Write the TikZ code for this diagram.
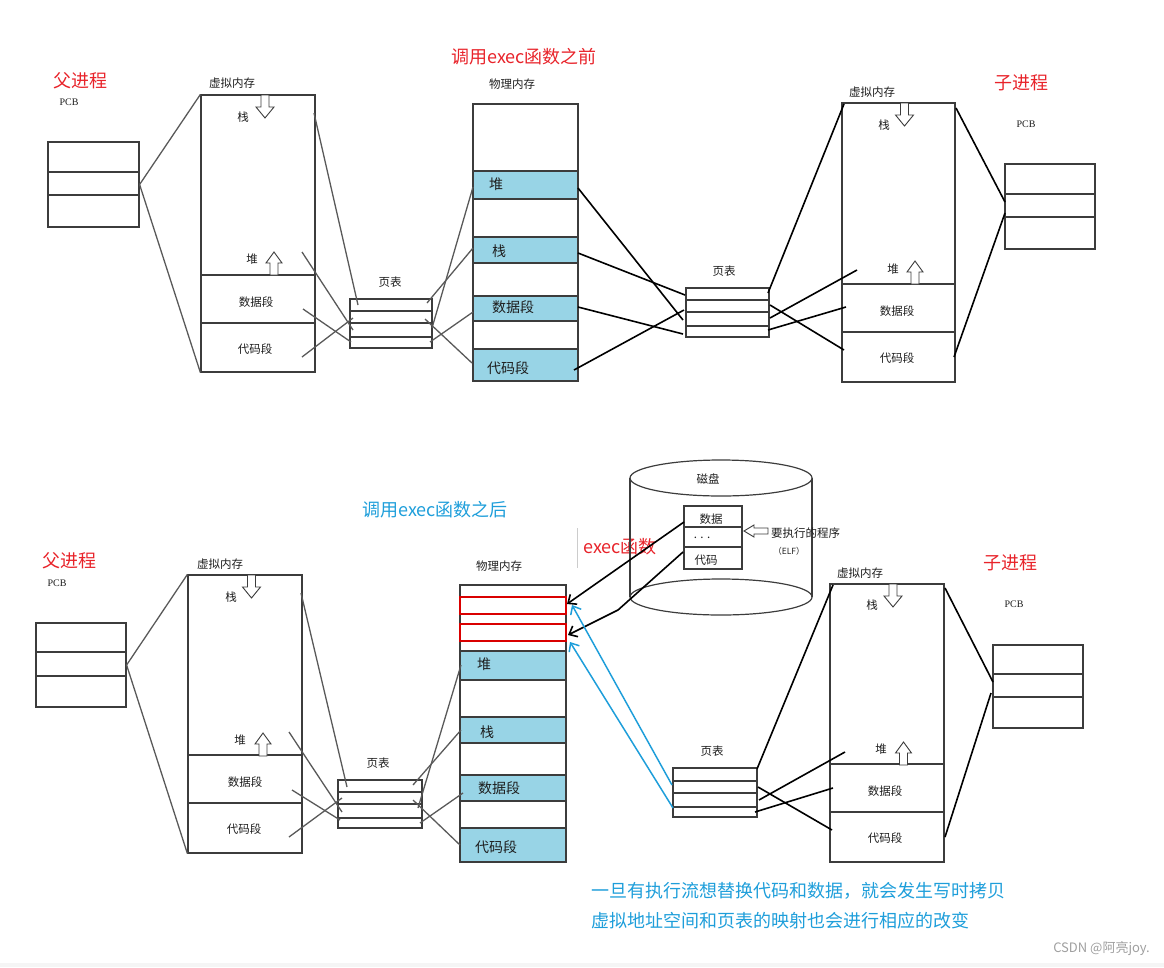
\documentclass[tikz,border=0pt]{standalone}
\usepackage{fontspec}
\setmainfont{Liberation Serif}
\newfontfamily\cjk{Noto Sans CJK SC}
\usetikzlibrary{calc,arrows.meta}
\definecolor{tred}{RGB}{232,35,42}
\definecolor{tblue}{RGB}{30,158,218}
\definecolor{segblue}{RGB}{152,212,230}
\definecolor{ink}{RGB}{60,60,60}
\definecolor{txt}{RGB}{30,30,30}
\begin{document}
\begin{tikzpicture}[x=1pt,y=-1pt,
  box/.style={draw=ink, line width=1.2pt, inner sep=0pt, rectangle},
  segbox/.style={draw=ink, line width=1.1pt, fill=segblue, inner sep=0pt, rectangle},
  redbox/.style={draw=red!85!black, line width=1.4pt, inner sep=0pt, rectangle},
  lab/.style={font=\cjk\fontsize{11.5}{13}\selectfont, text=txt, inner sep=0pt},
  seglab/.style={font=\cjk\fontsize{14}{16}\selectfont, text=txt, inner sep=0pt},
  ttl/.style={font=\cjk\fontsize{18}{21}\selectfont, inner sep=0pt},
  pcblab/.style={font=\fontsize{10}{11}\selectfont, text=txt, inner sep=0pt},
  skg/.style={draw=gray!70!black, line width=1.3pt},
  skb/.style={draw=black, line width=1.6pt},
  inner/.style={draw=ink, line width=1.1pt},
  barb/.style={-{Straight Barb[length=7pt,width=12pt]}},
  pics/dnarrow/.style={code={\draw[ink, line width=0.9pt, fill=white] (-4,0) -- (4,0) -- (4,12) -- (9,12) -- (0,23) -- (-9,12) -- (-4,12) -- cycle;}},
  pics/uparrow/.style={code={\draw[ink, line width=0.9pt, fill=white] (-4,23) -- (4,23) -- (4,11) -- (8,11) -- (0,0) -- (-8,11) -- (-4,11) -- cycle;}},
  pics/lfarrow/.style={code={\draw[ink, line width=0.9pt, fill=white] (0,0) -- (10,-6) -- (10,-3) -- (24,-3) -- (24,3) -- (10,3) -- (10,6) -- cycle;}}
]
\useasboundingbox (0,0) rectangle (1164,967);
\fill[gray!8] (0,963) rectangle (1164,967);

%================ TOP ================
\node[ttl, text=tred] (titleA) at (524,57) {调用exec函数之前};
\node[ttl, text=tred] (parA) at (80,81) {父进程};
\node[pcblab] (pcbAl) at (69,102) {PCB};
\node[ttl, text=tred] (chiB) at (1021,83) {子进程};
\node[pcblab] (pcbBl) at (1026,124) {PCB};

% parent PCB
\node[box, minimum width=91, minimum height=85] (pcbA) at (93.5,184.5) {};
\draw[inner] (48,172) -- (139,172) (48,195) -- (139,195);
% parent VM
\node[lab] (vmAl) at (232,83) {虚拟内存};
\node[box, minimum width=114, minimum height=277] (vmA) at (258,233.5) {};
\draw[inner] (201,275) -- (315,275) (201,323) -- (315,323);
\pic at (265,95) {dnarrow};
\pic at (274,252) {uparrow};
\node[lab] (vmAs) at (243,117) {栈};
\node[lab] (vmAh) at (252,259) {堆};
\node[lab] (vmAd) at (256,302) {数据段};
\node[lab] (vmAc) at (255,349) {代码段};
% parent page table
\node[lab] (ptAl) at (390,282) {页表};
\node[box, minimum width=82, minimum height=49] (ptA) at (391,323.5) {};
\draw[inner] (350,311) -- (432,311) (350,323) -- (432,323) (350,337) -- (432,337);
% physical memory
\node[lab] (phAl) at (512,84) {物理内存};
\node[box, minimum width=105, minimum height=277] (phA) at (525.5,242.5) {};
\node[segbox, minimum width=105, minimum height=28] (phAh) at (525.5,185) {};
\node[segbox, minimum width=105, minimum height=26] (phAs) at (525.5,250) {};
\node[segbox, minimum width=105, minimum height=25] (phAd) at (525.5,308.5) {};
\node[segbox, minimum width=105, minimum height=32] (phAc) at (525.5,365) {};
\node[seglab] (phAhl) at (496,184) {堆};
\node[seglab] (phAsl) at (499,251) {栈};
\node[seglab] (phAdl) at (513,307) {数据段};
\node[seglab] (phAcl) at (508,368) {代码段};
% child page table
\node[lab] (ptBl) at (724,271) {页表};
\node[box, minimum width=83, minimum height=49] (ptB) at (727.5,312.5) {};
\draw[inner] (686,300) -- (769,300) (686,312) -- (769,312) (686,326) -- (769,326);
% child VM
\node[lab] (vmBl) at (872,92) {虚拟内存};
\node[box, minimum width=113, minimum height=279] (vmB) at (898.5,242.5) {};
\draw[inner] (842,284) -- (955,284) (842,332) -- (955,332);
\pic at (904.5,103) {dnarrow};
\pic at (915,261) {uparrow};
\node[lab] (vmBs) at (884,125) {栈};
\node[lab] (vmBh) at (893,269) {堆};
\node[lab] (vmBd) at (897,311) {数据段};
\node[lab] (vmBc) at (897,358) {代码段};
% child PCB
\node[box, minimum width=90, minimum height=85] (pcbB) at (1050,206.5) {};
\draw[inner] (1005,194) -- (1095,194) (1005,217) -- (1095,217);

% top connectors
\coordinate (a3s) at (314,113); \coordinate (a3e) at (358,305);
\coordinate (a4s) at (302,252); \coordinate (a4e) at (353,330);
\coordinate (a5s) at (303,309); \coordinate (a5e) at (351,342);
\coordinate (a6s) at (302,357); \coordinate (a6e) at (353,318);
\coordinate (a7s) at (427,303); \coordinate (a7e) at (473,248);
\coordinate (a8s) at (432,328); \coordinate (a8e) at (473,187);
\coordinate (a9s) at (430,342); \coordinate (a9e) at (473,312);
\coordinate (a10s) at (425,319); \coordinate (a10e) at (472,363);
\coordinate (a11s) at (578,188); \coordinate (a11e) at (683,320);
\coordinate (a12s) at (578,253); \coordinate (a12e) at (685,295);
\coordinate (a13s) at (578,307); \coordinate (a13e) at (683,334);
\coordinate (a14s) at (574,370); \coordinate (a14e) at (684,310);
\coordinate (a15s) at (768,293); \coordinate (a15e) at (844,104);
\coordinate (a16s) at (770,318); \coordinate (a16e) at (857,270);
\coordinate (a17s) at (768,330); \coordinate (a17e) at (846,307);
\coordinate (a18s) at (770,305); \coordinate (a18e) at (844,350);
\coordinate (a19s) at (956,108); \coordinate (a19e) at (1005,202);
\coordinate (a20s) at (954,357); \coordinate (a20e) at (1005,213);
\draw[skg] (pcbA.east) -- (vmA.north west);
\draw[skg] (pcbA.east) -- (vmA.south west);
\draw[skg] (a3s) -- (a3e);
\draw[skg] (a4s) -- (a4e);
\draw[skg] (a5s) -- (a5e);
\draw[skg] (a6s) -- (a6e);
\draw[skg] (a7s) -- (a7e);
\draw[skg] (a8s) -- (a8e);
\draw[skg] (a9s) -- (a9e);
\draw[skg] (a10s) -- (a10e);
\draw[skb] (a11s) -- (a11e);
\draw[skb] (a12s) -- (a12e);
\draw[skb] (a13s) -- (a13e);
\draw[skb] (a14s) -- (a14e);
\draw[skb] (a15s) -- (a15e);
\draw[skb] (a16s) -- (a16e);
\draw[skb] (a17s) -- (a17e);
\draw[skb] (a18s) -- (a18e);
\draw[skb] (a19s) -- (a19e);
\draw[skb] (a20s) -- (a20e);

%================ BOTTOM ================
\node[ttl, text=tblue] (titleB) at (435,510) {调用exec函数之后};
\node[ttl, text=tred] (parC) at (69,561) {父进程};
\node[pcblab] (pcbCl) at (57,583) {PCB};
\node[ttl, text=tred] (chiD) at (1010,563) {子进程};
\node[pcblab] (pcbDl) at (1014,604) {PCB};
\node[ttl, text=tred] (execl) at (620,547) {exec函数};

% parent PCB
\node[box, minimum width=90, minimum height=84] (pcbC) at (81,665) {};
\draw[inner] (36,652) -- (126,652) (36,676) -- (126,676);
% parent VM
\node[lab] (vmCl) at (220,564) {虚拟内存};
\node[box, minimum width=114, minimum height=278] (vmC) at (245,714) {};
\draw[inner] (188,755) -- (302,755) (188,803) -- (302,803);
\pic at (251.5,575) {dnarrow};
\pic at (263,733) {uparrow};
\node[lab] (vmCs) at (231,597) {栈};
\node[lab] (vmCh) at (240,740) {堆};
\node[lab] (vmCd) at (245,782) {数据段};
\node[lab] (vmCc) at (244,829) {代码段};
% parent page table
\node[lab] (ptCl) at (378,763) {页表};
\node[box, minimum width=84, minimum height=48] (ptC) at (380,804) {};
\draw[inner] (338,792) -- (422,792) (338,804) -- (422,804) (338,818) -- (422,818);
% physical memory
\node[lab] (phCl) at (499,566) {物理内存};
\node[box, minimum width=106, minimum height=277] (phC) at (513,723.5) {};
\node[redbox, minimum width=106, minimum height=17] (red1) at (513,605.5) {};
\node[redbox, minimum width=106, minimum height=17] (red2) at (513,632.5) {};
\node[segbox, minimum width=106, minimum height=29] (phCh) at (513,665.5) {};
\node[segbox, minimum width=106, minimum height=26] (phCs) at (513,730) {};
\node[segbox, minimum width=106, minimum height=26] (phCd) at (513,788) {};
\node[segbox, minimum width=106, minimum height=34] (phCc) at (513,845) {};
\node[seglab] (phChl) at (484,664) {堆};
\node[seglab] (phCsl) at (487,732) {栈};
\node[seglab] (phCdl) at (499,788) {数据段};
\node[seglab] (phCcl) at (496,847) {代码段};
\draw[gray!40, line width=0.6pt] (577,528) -- (577,568);

% disk
\draw[ink, line width=1.2pt] (630,478) -- (630,597) (812,478) -- (812,597);
\draw[ink, line width=1.2pt, fill=white] (721,478) ellipse [x radius=91, y radius=18];
\draw[ink, line width=1.2pt] (721,597) ellipse [x radius=91, y radius=18];
\node[lab] (diskl) at (708,479) {磁盘};
\node[box, minimum width=58, minimum height=63] (elf) at (713,537.5) {};
\draw[inner] (684,527) -- (742,527) (684,547) -- (742,547);
\node[lab] (elfd) at (711,519) {数据};
\node[lab] (elfe) at (702,538) {. . .};
\node[lab] (elfc) at (706,560) {代码};
\pic at (744,531) {lfarrow};
\node[lab, anchor=west] (progl) at (771,533) {要执行的程序};
\node[font=\cjk\fontsize{8.5}{10}\selectfont, text=txt, inner sep=0pt] (elfl) at (789,551) {（ELF）};

% child page table
\node[lab] (ptDl) at (712,751) {页表};
\node[box, minimum width=84, minimum height=49] (ptD) at (715,792.5) {};
\draw[inner] (673,781) -- (757,781) (673,793) -- (757,793) (673,807) -- (757,807);
% child VM
\node[lab] (vmDl) at (860,573) {虚拟内存};
\node[box, minimum width=114, minimum height=278] (vmD) at (887,723) {};
\draw[inner] (830,764) -- (944,764) (830,812) -- (944,812);
\pic at (893,584) {dnarrow};
\pic at (903.5,742) {uparrow};
\node[lab] (vmDs) at (872,605) {栈};
\node[lab] (vmDh) at (881,749) {堆};
\node[lab] (vmDd) at (885,791) {数据段};
\node[lab] (vmDc) at (885,838) {代码段};
% child PCB
\node[box, minimum width=90, minimum height=83] (pcbD) at (1038,686.5) {};
\draw[inner] (993,674) -- (1083,674) (993,697) -- (1083,697);

% bottom connectors
\coordinate (b3s) at (301,593); \coordinate (b3e) at (347,787);
\coordinate (b4s) at (289,732); \coordinate (b4e) at (342,812);
\coordinate (b5s) at (292,790); \coordinate (b5e) at (340,820);
\coordinate (b6s) at (289,837); \coordinate (b6e) at (342,798);
\coordinate (b7s) at (413,785); \coordinate (b7e) at (461,730);
\coordinate (b8s) at (418,808); \coordinate (b8e) at (461,665);
\coordinate (b9s) at (420,823); \coordinate (b9e) at (463,793);
\coordinate (b10s) at (413,800); \coordinate (b10e) at (460,845);
\coordinate (k1s) at (684,522); \coordinate (k1e) at (567,604);
\coordinate (k2s) at (683,552); \coordinate (k2m) at (618,610); \coordinate (k2e) at (568,635);
\coordinate (u1s) at (672,785); \coordinate (u1e) at (572,605);
\coordinate (u2s) at (673,808); \coordinate (u2e) at (570,642);
\coordinate (b15s) at (757,769); \coordinate (b15e) at (833,585);
\coordinate (b16s) at (759,800); \coordinate (b16e) at (845,752);
\coordinate (b17s) at (755,812); \coordinate (b17e) at (833,788);
\coordinate (b18s) at (758,787); \coordinate (b18e) at (832,830);
\coordinate (b19s) at (945,588); \coordinate (b19e) at (993,682);
\coordinate (b20s) at (945,837); \coordinate (b20e) at (991,693);
\draw[skg] (pcbC.east) -- (vmC.north west);
\draw[skg] (pcbC.east) -- (vmC.south west);
\draw[skg] (b3s) -- (b3e);
\draw[skg] (b4s) -- (b4e);
\draw[skg] (b5s) -- (b5e);
\draw[skg] (b6s) -- (b6e);
\draw[skg] (b7s) -- (b7e);
\draw[skg] (b8s) -- (b8e);
\draw[skg] (b9s) -- (b9e);
\draw[skg] (b10s) -- (b10e);
\draw[skb, barb] (k1s) -- (k1e);
\draw[skb, barb] (k2s) -- (k2m) -- (k2e);
\draw[draw=tblue, line width=1.5pt, barb] (u1s) -- (u1e);
\draw[draw=tblue, line width=1.5pt, barb] (u2s) -- (u2e);
\draw[skb] (b15s) -- (b15e);
\draw[skb] (b16s) -- (b16e);
\draw[skb] (b17s) -- (b17e);
\draw[skb] (b18s) -- (b18e);
\draw[skb] (b19s) -- (b19e);
\draw[skb] (b20s) -- (b20e);

% notes
\node[font=\cjk\fontsize{18}{22}\selectfont, text=tblue, anchor=west, inner sep=0pt] (note1) at (591,891) {一旦有执行流想替换代码和数据，就会发生写时拷贝};
\node[font=\cjk\fontsize{18}{22}\selectfont, text=tblue, anchor=west, inner sep=0pt] (note2) at (591,921) {虚拟地址空间和页表的映射也会进行相应的改变};
\node[font=\cjk\fontsize{13}{15}\selectfont, text=gray!75, anchor=east, inner sep=0pt] (wm) at (1150,949) {CSDN @阿亮joy.};
\end{tikzpicture}
\end{document}
